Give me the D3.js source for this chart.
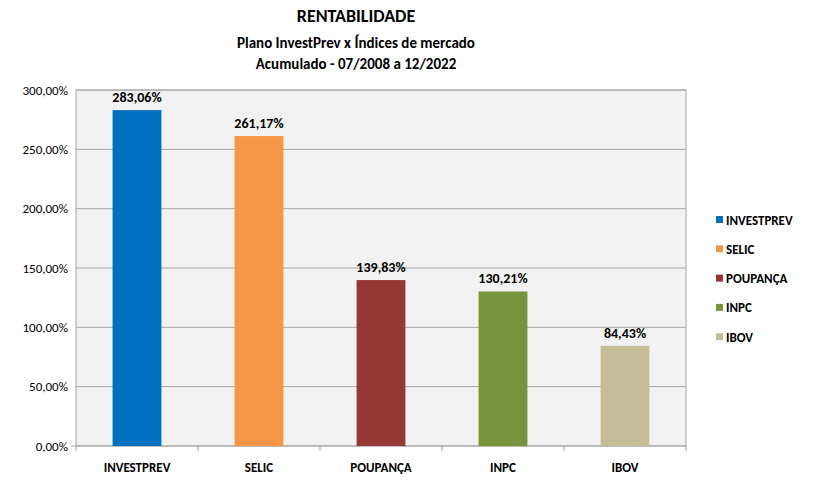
<!DOCTYPE html>
<html><head><meta charset="utf-8">
<script src="https://cdn.jsdelivr.net/npm/d3@7"></script>
<style>body{margin:0;background:#fff}text{font-family:Carlito,Lato,"Liberation Sans",sans-serif}</style>
</head><body><svg id="c" width="820" height="483"></svg>
<script>
const categories=["INVESTPREV","SELIC","POUPANÇA","INPC","IBOV"];
const values=[283.06,261.17,139.83,130.21,84.43];
const colors=["#0070C0","#F79646","#953735","#77933C","#C4BD97"];
const ticks=[0,50,100,150,200,250,300];
const titles=["RENTABILIDADE","Plano InvestPrev x Índices de mercado","Acumulado - 07/2008 a 12/2022"];
const svg=d3.select("#c");
const L=76,R=686,T=90,B=446;
const x=d3.scaleBand().domain(categories).range([L,R]).paddingInner(0.6).paddingOuter(0.3);
const y=d3.scaleLinear().domain([0,300]).range([B,T]);
const fmt=v=>v.toFixed(2).replace(".",",")+"%";
svg.append("rect").attr("x",L).attr("y",T).attr("width",R-L).attr("height",B-T).attr("fill","#F2F2F2").attr("stroke","#A6A6A6");
svg.append("g").selectAll("line").data(ticks).join("line").attr("x1",L).attr("x2",R).attr("y1",d=>y(d)).attr("y2",d=>y(d)).attr("stroke","#A6A6A6");
svg.append("g").selectAll("text").data(ticks).join("text").attr("x",L-8).attr("y",d=>y(d)+4.5).attr("text-anchor","end").attr("font-size",13).text(d=>fmt(d));
svg.append("g").selectAll("line").data(d3.range(categories.length+1)).join("line")
 .attr("x1",i=>L+i*(R-L)/5).attr("x2",i=>L+i*(R-L)/5).attr("y1",B).attr("y2",B+5).attr("stroke","#A6A6A6");
svg.append("line").attr("x1",L-5).attr("x2",L).attr("y1",B).attr("y2",B).attr("stroke","#A6A6A6");
svg.append("g").selectAll("rect").data(values).join("rect").attr("x",(d,i)=>x(categories[i])).attr("width",x.bandwidth())
 .attr("y",d=>y(d)).attr("height",d=>B-y(d)).attr("fill",(d,i)=>colors[i]);
svg.append("g").selectAll("text").data(values).join("text").attr("x",(d,i)=>x(categories[i])+x.bandwidth()/2).attr("y",d=>y(d)-8)
 .attr("text-anchor","middle").attr("font-size",14).attr("font-weight","bold").text(d=>fmt(d));
svg.append("g").selectAll("text").data(categories).join("text").attr("x",d=>x(d)+x.bandwidth()/2).attr("y",472)
 .attr("text-anchor","middle").attr("font-size",13).attr("font-weight","bold").text(d=>d);
const lg=svg.append("g").selectAll("g").data(categories).join("g").attr("transform",(d,i)=>`translate(716,${220+i*29.3})`);
lg.append("rect").attr("x",0).attr("y",-4).attr("width",7).attr("height",7).attr("fill",(d,i)=>colors[i]);
lg.append("text").attr("x",10).attr("y",4.5).attr("font-size",13).attr("font-weight","bold").text(d=>d);
svg.append("text").attr("x",356).attr("y",22).attr("text-anchor","middle").attr("font-size",18).attr("font-weight","bold").text(titles[0]);
svg.append("text").attr("x",356).attr("y",48).attr("text-anchor","middle").attr("font-size",15).attr("font-weight","bold").text(titles[1]);
svg.append("text").attr("x",356).attr("y",69).attr("text-anchor","middle").attr("font-size",15).attr("font-weight","bold").text(titles[2]);
</script></body></html>
